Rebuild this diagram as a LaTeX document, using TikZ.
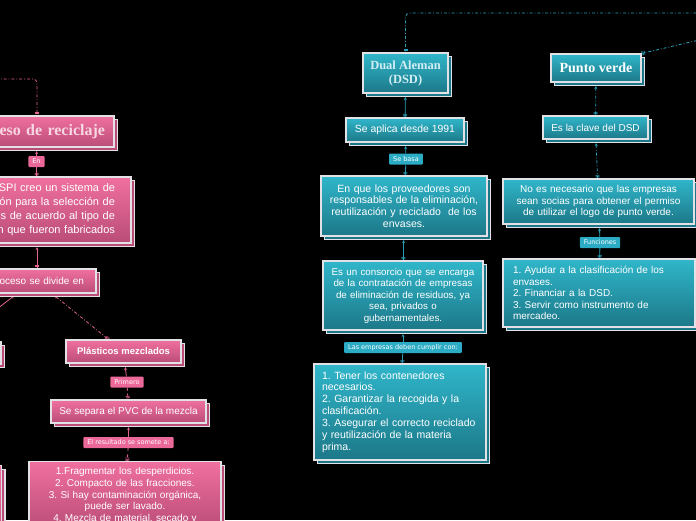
\documentclass[tikz,border=0pt]{standalone}
\usepackage{fontspec}
\setmainfont{Liberation Sans}
\newfontfamily\serf{Liberation Serif}
\newfontfamily\labf{DejaVu Sans}
\usetikzlibrary{shadows,arrows.meta}
\frenchspacing
\newcommand\fz[2]{\fontsize{#1}{#2}\selectfont}
\newcommand\lbf{\labf\fontsize{6.5}{7.5}\selectfont}
\definecolor{ptop}{RGB}{240,112,158}
\definecolor{pbot}{RGB}{186,76,120}
\definecolor{ttop}{RGB}{48,182,202}
\definecolor{tbot}{RGB}{28,120,136}
\definecolor{edge}{RGB}{226,226,230}
\definecolor{plab}{RGB}{236,104,152}
\definecolor{tlab}{RGB}{44,172,196}
\definecolor{plink}{RGB}{226,100,145}
\definecolor{tlink}{RGB}{40,160,180}
\definecolor{ptxt}{RGB}{248,214,226}
\definecolor{ttxt}{RGB}{210,238,244}
\pgfdeclarelayer{bg}
\pgfdeclarelayer{links}
\pgfsetlayers{bg,links,main}
\tikzset{pb/.style = {rectangle, draw=edge, line width=1.1pt, top color=ptop, bottom color=pbot, text=white, inner sep=3pt,
                      general shadow={shadow xshift=3.5pt, shadow yshift=-3.5pt, fill=pbot, draw=edge, line width=1.1pt}},
         tb/.style = {rectangle, draw=edge, line width=1.1pt, top color=ttop, bottom color=tbot, text=white, inner sep=3pt,
                      general shadow={shadow xshift=3.5pt, shadow yshift=-3.5pt, fill=tbot, draw=edge, line width=1.1pt}},
         pl/.style = {rectangle, fill=plab, text=white, font=\lbf, inner xsep=4pt, inner ysep=1pt, minimum height=11pt, rounded corners=1pt},
         tl/.style = {rectangle, fill=tlab, text=white, font=\lbf, inner xsep=4pt, inner ysep=1pt, minimum height=11pt, rounded corners=1pt},
         pk/.style = {draw=plink, line width=0.8pt},
         tk/.style = {draw=tlink, line width=0.8pt},
         hd/.style = {-{Bar[width=4pt,line width=.6pt,sep=.8pt]Bar[width=4pt,line width=.6pt,sep=.8pt]Bar[width=4pt,line width=.6pt]}},
         up/.style = {{Stealth[length=3pt,width=3pt]}-, shorten <=3.5pt},
         uh/.style = {{Stealth[length=3pt,width=3pt]}-{Bar[width=4pt,line width=.6pt,sep=.8pt]Bar[width=4pt,line width=.6pt,sep=.8pt]Bar[width=4pt,line width=.6pt]}, shorten <=3.5pt}}
\begin{document}
\begin{tikzpicture}[x=1pt, y=-1pt]
    \path[use as bounding box] (0,0) rectangle (696,520);
    \begin{pgfonlayer}{bg}
      \fill[black] (0,0) rectangle (696,520);
    \end{pgfonlayer}
    \clip (0,0) rectangle (696,520);
    \coordinate (tr) at (712,13); \coordinate (tr2) at (712,37); \coordinate (tp) at (-12,79);
    \node[tb, minimum width=85pt, minimum height=40pt, align=center, text=ttxt, font={\serf\bfseries\fz{12.5}{14}}] (dual) at (405.5,73) {Dual Aleman\\(DSD)};
    \node[tb, minimum width=118pt, minimum height=24pt, font=\fz{10.4}{12}] (seapl) at (405,130) {Se aplica desde 1991};
    \node[tl] (basa) at (406,159) {Se basa};
    \node[tb, text width=156pt, inner xsep=5pt, minimum height=60pt, align=center, font=\fz{10.5}{11.8}] (enque) at (404,206) {En que los proveedores son\\responsables de la eliminación,\\reutilización y reciclado\ \ de los\\envases.};
    \node[tb, text width=150pt, inner xsep=5pt, minimum height=69pt, align=center, font=\fz{9.8}{11.5}] (cons) at (403,295.5) {Es un consorcio que se encarga\\de la contratación de empresas\\de eliminación de residuos, ya\\sea, privados o\\gubernamentales.};
    \node[tl] (cump) at (403,347.5) {Las empresas deben cumplir con:};
    \node[tb, text width=156pt, inner xsep=8pt, minimum height=96pt, align=left, font=\fz{10.5}{11.9}] (tener) at (400,412) {1. Tener los contenedores\\necesarios.\\2. Garantizar la recogida y la\\clasificación.\\3. Asegurar el correcto reciclado\\y reutilización de la materia\\prima.};
    \node[tb, minimum width=90pt, minimum height=28pt, font={\serf\bfseries\fz{14}{16}}] (punto) at (596,68) {Punto verde};
    \node[tb, minimum width=105pt, minimum height=23pt, font=\fz{10}{12}] (clave) at (595.5,127.5) {Es la clave del DSD};
    \node[tb, text width=181pt, inner xsep=5pt, minimum height=45pt, align=center, font=\fz{10}{11.5}] (noes) at (598.5,201.5) {No es necesario que las empresas\\sean socias para obtener el permiso\\de utilizar el logo de punto verde.};
    \node[tl] (func) at (600,242.5) {Funciones};
    \node[tb, text width=172pt, inner xsep=10pt, minimum height=68pt, align=left, font=\fz{10}{11.5}] (ayud) at (599,293) {1. Ayudar a la clasificación de los\\envases.\\2. Financiar a la DSD.\\3. Servir como instrumento de\\mercadeo.};
    \node[pb, text width=136pt, inner xsep=9pt, minimum height=31pt, align=right, text=ptxt, font={\serf\bfseries\fz{16}{18}}] (title) at (37,131.5) {eso de reciclaje};
    \node[pl] (en) at (36.5,161.5) {En};
    \node[pb, text width=156pt, inner xsep=16pt, minimum height=66pt, align=right, font=\fz{11}{14}] (spi) at (37,210) {SPI creo un sistema de\\ón para la selección de\\s de acuerdo al tipo de\\n que fueron fabricados};
    \node[pb, text width=134pt, inner xsep=12pt, minimum height=24pt, align=right, font=\fz{10}{12}] (div) at (17,281) {roceso se divide en};
    \node[pb, minimum width=92pt, minimum height=22pt] (lb1) at (-45,353) {};
    \node[pb, minimum width=100pt, minimum height=80pt, anchor=north east] (lb2) at (2,465) {};
    \node[pb, minimum width=115pt, minimum height=23pt, font=\bfseries\fz{9.5}{12}] (plast) at (123.5,351.5) {Plásticos mezclados};
    \node[pl] (prim) at (127,382) {Primero};
    \node[pb, minimum width=155pt, minimum height=23pt, font=\fz{10}{12}] (sep) at (128.5,411.5) {Se separa el PVC de la mezcla};
    \node[pl] (res) at (128.5,442.5) {El resultado se somete a:};
    \node[pb, text width=180pt, inner xsep=6pt, inner ysep=6pt, anchor=north, align=center, font=\fz{10}{11.7}] (frag) at (125,461) {1.Fragmentar los desperdicios.\\2. Compacto de las fracciones.\\3. Si hay contaminación orgánica,\\puede ser lavado.\\4. Mezcla de material, secado y};
    \begin{pgfonlayer}{links}
      \begin{scope}
        \clip (0,0) rectangle (696,520);
        \draw[tk, dash dot, rounded corners=4pt, hd] (tr) -| (dual.north);
        \draw[tk, dash dot, hd] (tr2) -- (punto.north east);
        \draw[tk, uh] (dual) -- (seapl);
        \draw[tk, up] (seapl) -- (basa);
        \draw[tk, hd] (basa) -- (enque);
        \draw[tk, uh] (enque) -- (cons);
        \draw[tk, up] (cons) -- (cump);
        \draw[tk, hd] (cump) -- (tener);
        \draw[tk, dash dot, uh] (punto) -- (clave);
        \draw[tk, dash dot, uh] (clave) -- (noes);
        \draw[tk, up] (noes) -- (func);
        \draw[tk, hd] (func) -- (ayud);
        \draw[pk, dash dot, rounded corners=4pt, hd] (tp) -| (title.north);
        \draw[pk, up] (title) -- (en);
        \draw[pk, hd] (en) -- (spi);
        \draw[pk, uh] (spi.south) -- ([xshift=20pt]div.north);
        \draw[pk, uh] (div.south) -- (lb1.north);
        \draw[pk, dash dot, uh] ([xshift=35pt]div.south) -- ([xshift=-15pt]plast.north);
        \draw[pk, up] (plast) -- (prim);
        \draw[pk, dashed, hd] (prim) -- (sep);
        \draw[pk, up] (sep) -- (res);
        \draw[pk, dashed, hd] (res) -- (frag);
      \end{scope}
    \end{pgfonlayer}
\end{tikzpicture}
\end{document}
